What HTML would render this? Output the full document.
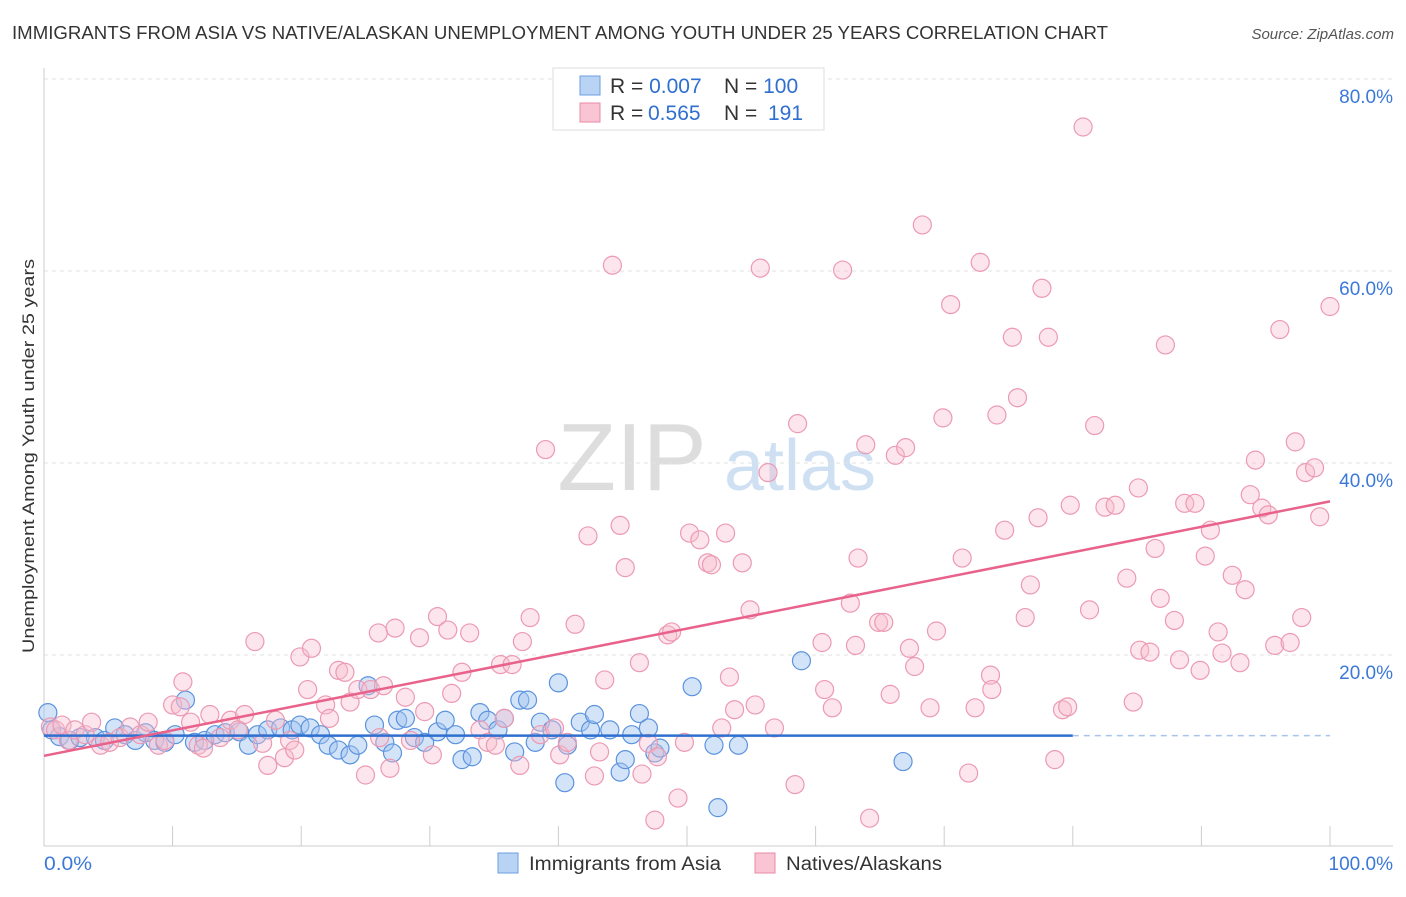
<!DOCTYPE html>
<html><head><meta charset="utf-8"><style>
body{margin:0;background:#fff;font-family:"Liberation Sans",sans-serif;}
svg text{font-family:"Liberation Sans",sans-serif;}
</style></head><body>
<svg width="1406" height="892" viewBox="0 0 1406 892">
<text x="12" y="39" font-size="18" fill="#333" textLength="1096" lengthAdjust="spacingAndGlyphs">IMMIGRANTS FROM ASIA VS NATIVE/ALASKAN UNEMPLOYMENT AMONG YOUTH UNDER 25 YEARS CORRELATION CHART</text>
<text x="1394" y="39" font-size="15" fill="#555" font-style="italic" text-anchor="end">Source: ZipAtlas.com</text>
<g>
<text x="632" y="490" font-size="96" font-family="Liberation Serif" fill="#ddd" text-anchor="middle">ZIP</text>
<text x="800" y="490" font-size="72" fill="#cfe0f3" text-anchor="middle">atlas</text>
</g>
<g id="grid"></g>
<g id="axes"></g>
<g id="pts"></g>
<g id="trend"></g>
<text transform="translate(34,456) rotate(-90)" font-size="17" fill="#333" text-anchor="middle" textLength="394" lengthAdjust="spacingAndGlyphs">Unemployment Among Youth under 25 years</text>
<g>
<rect x="553" y="68" width="271" height="62" fill="#fff" stroke="#ddd"/>
<rect x="580" y="76" width="20" height="19" fill="#b9d3f5" stroke="#6d9de0"/>
<rect x="580" y="103" width="20" height="19" fill="#f9c5d4" stroke="#e98aa6"/>
<text x="610" y="93" font-size="21" fill="#333">R = <tspan fill="#2f6fcf">0.007</tspan><tspan x="724">N = </tspan><tspan fill="#2f6fcf">100</tspan></text>
<text x="610" y="120" font-size="21" fill="#333">R = <tspan x="648" fill="#2f6fcf">0.565</tspan><tspan x="724">N = </tspan><tspan x="768" fill="#2f6fcf">191</tspan></text>
</g>
<g>
<rect x="498" y="853" width="20" height="20" fill="#b9d3f5" stroke="#6d9de0"/>
<text x="529" y="870" font-size="19" fill="#333" textLength="192" lengthAdjust="spacingAndGlyphs">Immigrants from Asia</text>
<rect x="755" y="853" width="20" height="20" fill="#f9c5d4" stroke="#e98aa6"/>
<text x="786" y="870" font-size="19" fill="#333" textLength="156" lengthAdjust="spacingAndGlyphs">Natives/Alaskans</text>
</g>
</svg>
<script>
const blueX=[0.3,0.6,1.2,2.0,2.8,4.0,4.7,5.5,6.3,7.1,7.9,8.6,9.4,10.2,11.0,11.7,12.5,13.3,14.1,15.2,15.9,16.6,17.4,18.4,19.3,19.9,20.7,21.5,22.1,22.9,23.8,24.4,25.2,25.7,26.5,27.1,27.5,28.1,28.8,29.6,30.6,31.2,32.0,32.5,33.3,33.9,34.5,35.3,35.8,36.6,37.0,37.6,38.2,38.6,39.5,40.0,40.7,40.5,41.7,42.5,42.8,44.0,44.8,45.2,45.7,46.3,47.0,47.5,47.9,50.4,52.1,52.4,54.0,58.9,66.8];
const blueY=[14.0,12.2,11.5,11.1,11.4,11.4,11.1,12.4,11.7,11.1,11.9,11.1,10.9,11.7,15.3,10.9,11.1,11.7,11.9,12.0,10.6,11.7,12.2,12.4,12.2,12.7,12.4,11.7,10.6,10.1,9.6,10.6,16.8,12.7,10.9,9.8,13.2,13.4,11.4,10.9,12.0,13.2,11.7,9.1,9.4,14.0,13.2,12.2,13.4,9.9,15.3,15.3,10.9,13.0,12.2,17.1,10.6,6.7,13.0,12.2,13.8,12.2,7.8,9.1,11.7,13.9,12.4,9.8,10.3,16.7,10.6,4.1,10.6,19.4,8.9];
const pinkX=[0.5,0.9,1.4,1.9,2.4,3.2,3.7,4.4,5.1,5.9,6.7,7.5,8.1,8.9,9.4,10.0,10.6,10.8,11.4,12.0,12.4,12.9,13.7,14.5,15.1,15.6,16.4,17.0,17.4,18.0,18.7,19.1,19.5,19.9,20.5,20.8,21.9,22.2,22.9,23.4,23.8,24.4,25.0,25.4,26.0,26.1,26.4,26.9,27.3,28.1,28.5,29.2,29.6,30.2,30.6,31.4,31.7,32.5,33.1,33.9,34.5,35.1,35.5,35.8,36.4,37.0,37.2,37.8,38.6,39.0,39.7,40.1,40.7,41.3,42.3,42.8,43.2,43.6,44.2,44.8,45.2,46.3,46.5,47.0,47.5,47.7,48.5,48.8,49.3,49.8,50.2,51.0,51.6,51.9,52.7,53.0,53.3,53.7,54.3,54.9,55.3,55.7,56.3,56.8,58.4,58.6,60.5,60.7,61.3,62.1,62.7,63.1,63.3,63.9,64.2,64.9,65.3,65.8,66.2,67.0,67.3,67.7,68.3,68.9,69.4,69.9,70.5,71.4,71.9,72.4,72.8,73.6,73.7,74.1,74.7,75.3,75.7,76.3,76.7,77.3,77.6,78.1,78.6,79.2,79.6,79.8,80.8,81.3,81.7,82.5,83.3,84.2,85.1,84.7,85.2,86.0,86.4,86.8,87.2,87.9,88.3,88.7,89.5,89.9,90.3,90.7,91.3,91.6,92.4,93.0,93.4,93.8,94.2,94.7,95.2,95.7,96.1,96.9,97.3,97.8,98.1,98.8,99.2,100];
const pinkY=[12.5,12.2,12.7,11.1,12.2,11.7,13.0,10.6,10.9,11.4,12.5,11.7,13.0,10.6,11.1,14.8,14.6,17.2,13.0,10.6,10.3,13.8,11.4,13.2,12.2,13.8,21.4,10.8,8.5,13.2,9.3,11.1,10.1,19.8,16.4,20.7,14.8,13.4,18.4,18.2,15.1,16.4,7.5,16.4,22.3,11.4,16.8,8.2,22.8,15.6,11.1,21.8,14.1,9.6,24.0,22.6,16.0,18.2,22.3,12.2,10.9,10.6,19.0,13.4,19.0,8.5,21.4,23.9,11.7,41.4,12.4,9.6,10.9,23.2,32.4,7.4,9.9,17.4,60.6,33.5,29.1,19.2,7.6,10.8,2.8,9.4,22.1,22.4,5.1,10.9,32.7,32.0,29.6,29.4,12.4,32.7,17.7,14.3,29.6,24.7,14.8,60.3,39.0,12.4,6.5,44.1,21.3,16.4,14.5,60.1,25.4,21.0,30.1,41.9,3.0,23.4,23.4,15.9,40.8,41.6,20.7,18.8,64.8,14.5,22.5,44.7,56.5,30.1,7.7,14.5,60.9,17.9,16.4,45.0,33.0,53.1,46.8,23.9,27.3,34.3,58.2,53.1,9.1,14.3,14.6,35.6,75.0,24.7,43.9,35.4,35.6,28.0,37.4,15.1,20.5,20.3,31.1,25.9,52.3,23.6,19.5,35.8,35.8,18.4,30.3,33.0,22.4,20.2,28.3,19.2,26.8,36.7,40.3,35.3,34.6,21.0,53.9,21.3,42.2,23.9,39.0,39.5,34.4,56.3];
const yTicks=[20,40,60,80];
const yTickLabels=["20.0%","40.0%","60.0%","80.0%"];
const xTicks=[0,10,20,30,40,50,60,70,80,90,100];
const blueTrend=[11.6,0.0];   // intercept, slope
const blueSolidEnd=80;
const pinkTrend=[9.5,0.265];

const NS="http://www.w3.org/2000/svg";
const xS=v=>44+v*12.86;
const yS=v=>847-v*9.6;
function mk(tag,attrs,parent){const e=document.createElementNS(NS,tag);for(const k in attrs)e.setAttribute(k,attrs[k]);parent.appendChild(e);return e;}
const grid=document.getElementById('grid'),axes=document.getElementById('axes'),pts=document.getElementById('pts'),trend=document.getElementById('trend');
yTicks.forEach((t,i)=>{
  const l=mk('line',{x1:44,x2:1393,y1:yS(t),y2:yS(t),stroke:'#e2e2e2','stroke-dasharray':'4,4'},grid);
  
  
  const tx=mk('text',{x:1393,y:yS(t)+24,'font-size':19,fill:'#3b78d8','text-anchor':'end'},grid);
  tx.textContent=yTickLabels[i];
  
  
});
let a=mk('line',{x1:44,x2:44,y1:68,y2:846,stroke:'#ccc'},axes);


a=mk('line',{x1:44,x2:1393,y1:846,y2:846,stroke:'#ccc'},axes);


xTicks.forEach(t=>{
  const l=mk('line',{x1:xS(t),x2:xS(t),y1:826,y2:846,stroke:'#ccc'},axes);
  
  
});
let t0=mk('text',{x:44,y:870,'font-size':19,fill:'#3b78d8',textLength:48,lengthAdjust:'spacingAndGlyphs'},axes);t0.textContent='0.0%';


let t1=mk('text',{x:1393,y:870,'font-size':19,fill:'#3b78d8','text-anchor':'end'},axes);t1.textContent='100.0%';


blueX.forEach((x,i)=>{
  const c=mk('circle',{cx:xS(x),cy:yS(blueY[i]),r:9,fill:'rgba(160,196,240,0.45)',stroke:'#5b93de','stroke-width':1.2},pts);
  
  
});
pinkX.forEach((x,i)=>{
  const c=mk('circle',{cx:xS(x),cy:yS(pinkY[i]),r:9,fill:'rgba(248,190,208,0.4)',stroke:'#ec9ab3','stroke-width':1.2},pts);
  
  
});
const bY=x=>blueTrend[0]+blueTrend[1]*x;
let l=mk('line',{x1:xS(0),y1:yS(bY(0)),x2:xS(blueSolidEnd),y2:yS(bY(blueSolidEnd)),stroke:'#2f6fcf','stroke-width':2.5},trend);


l=mk('line',{x1:xS(blueSolidEnd),y1:yS(bY(blueSolidEnd)),x2:xS(100),y2:yS(bY(100)),stroke:'#a9c4ec','stroke-width':1.5,'stroke-dasharray':'6,5'},trend);


const pY=x=>pinkTrend[0]+pinkTrend[1]*x;
l=mk('line',{x1:xS(0),y1:yS(pY(0)),x2:xS(100),y2:yS(pY(100)),stroke:'#e8628c','stroke-width':2.5},trend);


</script>
</body></html>
